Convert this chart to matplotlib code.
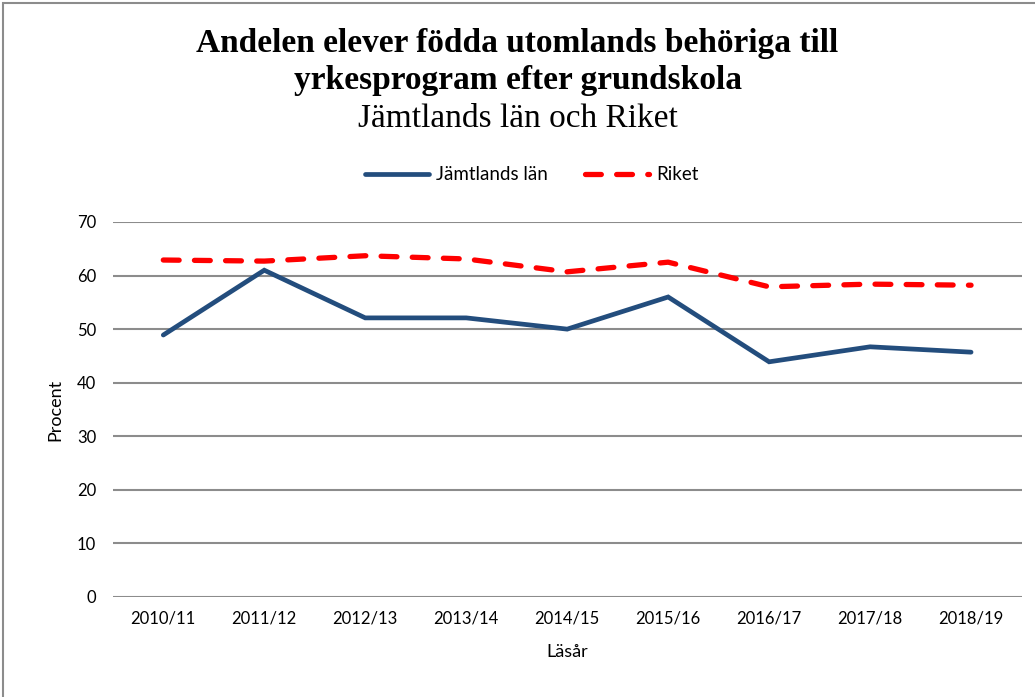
import numpy as np
import matplotlib.pyplot as plt
from matplotlib.patches import Rectangle

# data
lasar = ['2010/11', '2011/12', '2012/13', '2013/14', '2014/15',
         '2015/16', '2016/17', '2017/18', '2018/19']
jamtland = [48.9, 61.0, 52.1, 52.1, 50.0, 56.0, 43.9, 46.7, 45.7]
riket = [62.9, 62.7, 63.7, 63.1, 60.7, 62.5, 57.9, 58.4, 58.2]
yticks = [0, 10, 20, 30, 40, 50, 60, 70]

sans = ['Lato', 'DejaVu Sans']
serif = ['Liberation Serif', 'DejaVu Serif']

fig = plt.figure(figsize=(10.35, 6.97), dpi=100)
ax = fig.add_axes([0.109, 0.1435, 0.878, 0.538])

x = np.arange(len(lasar))
ax.plot(x, jamtland, color='#234D7D', lw=3.4, solid_capstyle='round',
        solid_joinstyle='miter', label='Jämtlands län', zorder=3)
ax.plot(x, riket, color='#FF0000', lw=3.8, linestyle=(0, (3.0, 2.9)),
        dash_capstyle='round', label='Riket', zorder=3)

ax.set_xlim(-0.5, len(lasar) - 0.5)
ax.set_ylim(0, 70)
ax.set_yticks(yticks)
ax.set_xticks(x)
ax.set_xticklabels(lasar, family=sans, fontsize=12)
ax.set_yticklabels([str(v) for v in yticks], family=sans, fontsize=12)
ax.tick_params(length=0, pad=10)
ax.tick_params(axis='y', pad=12)
ax.grid(axis='y', color='#8C8C8C', lw=1.5)
ax.set_axisbelow(True)
for s in ax.spines.values():
    s.set_visible(False)

ax.set_ylabel('Procent', family=sans, fontsize=13, labelpad=10)
ax.set_xlabel('Läsår', family=sans, fontsize=13, labelpad=12)

fig.text(0.5, 0.937, 'Andelen elever födda utomlands behöriga till',
         ha='center', va='center', family=serif, weight='bold', fontsize=24)
fig.text(0.5, 0.885, 'yrkesprogram efter grundskola',
         ha='center', va='center', family=serif, weight='bold', fontsize=24)
fig.text(0.5, 0.830, 'Jämtlands län och Riket',
         ha='center', va='center', family=serif, fontsize=24)

fig.legend(loc='center', bbox_to_anchor=(0.514, 0.749), ncol=2, frameon=False,
           prop={'family': sans, 'size': 13.5}, handlelength=3.4,
           columnspacing=2.0, handletextpad=0.4)

# outer chart border (only top and left visible in the crop)
fig.patches.append(Rectangle((0.003, -0.05), 1.2, 1.046, transform=fig.transFigure,
                             fill=False, edgecolor='#8C8C8C', lw=1.5))

fig.savefig('out.png', dpi=100)
